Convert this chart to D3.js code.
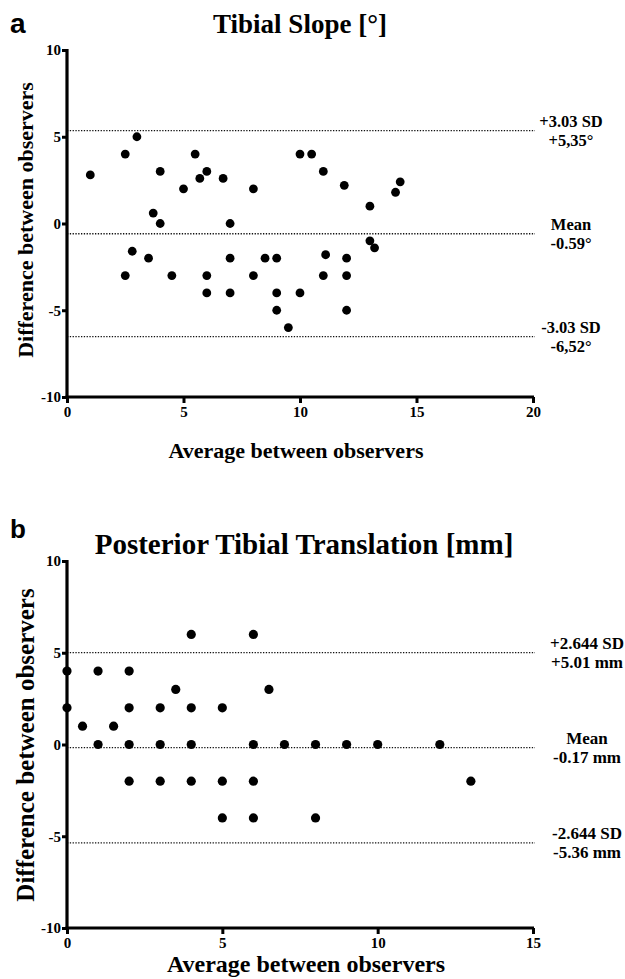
<!DOCTYPE html>
<html>
<head>
<meta charset="utf-8">
<script src="https://cdn.jsdelivr.net/npm/d3@7"></script>
<style>
    body { margin: 0; background: #fff; }
    svg text { font-family: "Liberation Serif", "Times New Roman", serif; font-weight: bold; fill: #000; }
    .axis .tick line { stroke: #000; stroke-width: 3px; }
</style>
</head>
<body>
<div id="chart"></div>
<script>
// Panel a: tibial slope
let slopeAvg  = [1, 2.5, 3, 4, 3.7, 4, 5, 5.5, 5.7, 6, 6.7, 7, 8, 10, 10.5, 11, 11.9, 13, 14.1, 14.3,
                 2.5, 2.8, 3.5, 4.5, 6, 6, 7, 7, 8, 8.5, 9, 9, 9, 9.5, 10, 11, 11.1, 12, 12, 12, 13, 13.2];
let slopeDiff = [2.8, 4, 5, 3, 0.6, 0, 2, 4, 2.6, 3, 2.6, 0, 2, 4, 4, 3, 2.2, 1, 1.8, 2.4,
                 -3, -1.6, -2, -3, -3, -4, -2, -4, -3, -2, -2, -4, -5, -6, -4, -3, -1.8, -2, -3, -5, -1, -1.4];
let slopeRefValues = [5.35, -0.59, -6.52];
let slopeRefLabels = [["+3.03 SD", "+5,35°"], ["Mean", "-0.59°"], ["-3.03 SD", "-6,52°"]];

// Panel b: posterior tibial translation
let ptAvg  = [0, 0, 0.5, 1, 1, 1.5, 2, 2, 2, 2, 3, 3, 3, 3.5, 4, 4, 4, 4, 5, 5, 5, 6, 6, 6, 6, 6.5, 7, 8, 8, 9, 10, 12, 13];
let ptDiff = [4, 2, 1, 4, 0, 1, 4, 2, 0, -2, 2, 0, -2, 3, 6, 2, 0, -2, 2, -2, -4, 6, 0, -2, -4, 3, 0, 0, -4, 0, 0, 0, -2];
let ptRefValues = [5.01, -0.17, -5.36];
let ptRefLabels = [["+2.644 SD", "+5.01 mm"], ["Mean", "-0.17 mm"], ["-2.644 SD", "-5.36 mm"]];

let yTicks = [-10, -5, 0, 5, 10];

let svg = d3.select("#chart").append("svg")
    .attr("width", 625)
    .attr("height", 979);

function drawPanel(cfg) {
    let g = svg.append("g");

    let x = d3.scaleLinear().domain([0, cfg.xMax]).range([67, 533]);
    let y = d3.scaleLinear().domain([-10, 10]).range([cfg.bottom, cfg.top]);

    // panel letter
    g.append("text")
        .attr("x", 10).attr("y", cfg.letterY)
        .style("font-family", "'Liberation Sans', Arial, sans-serif")
        .style("font-size", cfg.letterSize + "px")
        .text(cfg.letter);

    // title
    g.append("text")
        .attr("x", cfg.titleX).attr("y", cfg.titleY)
        .attr("text-anchor", "middle")
        .style("font-size", cfg.titleSize + "px")
        .text(cfg.title);

    // reference lines (dotted)
    g.selectAll(".ref")
        .data(cfg.refValues)
        .enter().append("line")
        .attr("x1", x(0)).attr("x2", 535)
        .attr("y1", d => y(d)).attr("y2", d => y(d))
        .style("stroke", "#111")
        .style("stroke-width", 1.3)
        .style("stroke-dasharray", "1.3,1.5");

    let refText = g.selectAll(".reflabel")
        .data(cfg.refValues)
        .enter().append("text")
        .attr("text-anchor", "middle")
        .style("font-size", cfg.refSize + "px");
    refText.append("tspan")
        .attr("x", cfg.refX).attr("y", d => y(d) - 4)
        .text((d, i) => cfg.refLabels[i][0]);
    refText.append("tspan")
        .attr("x", cfg.refX).attr("y", d => y(d) + 15)
        .text((d, i) => cfg.refLabels[i][1]);

    // axes
    let yAxis = g.append("g")
        .attr("class", "axis")
        .attr("transform", "translate(" + x(0) + ",0)")
        .call(d3.axisLeft(y).tickValues(yTicks).tickFormat(d => String(d))
            .tickSize(5).tickSizeOuter(0).tickPadding(1));
    let xAxis = g.append("g")
        .attr("class", "axis")
        .attr("transform", "translate(0," + y(-10) + ")")
        .call(d3.axisBottom(x).tickValues(cfg.xTicks).tickFormat(d => String(d))
            .tickSize(6).tickSizeOuter(0).tickPadding(3));

    [yAxis, xAxis].forEach(a => {
        a.attr("font-family", null).attr("font-size", null);
        a.select(".domain").remove();
        a.selectAll(".tick text").style("font-size", cfg.tickSize + "px");
    });

    // heavy axis lines
    g.append("line")
        .attr("x1", x(0)).attr("x2", x(0))
        .attr("y1", y(10) - 1).attr("y2", y(-10) + 1.5)
        .style("stroke", "#000").style("stroke-width", 3.2);
    g.append("line")
        .attr("x1", x(0) - 1.5).attr("x2", x(cfg.xMax) + 1)
        .attr("y1", y(-10)).attr("y2", y(-10))
        .style("stroke", "#000").style("stroke-width", 3.2);

    // axis titles
    g.append("text")
        .attr("transform", "translate(" + cfg.yLabelX + "," + cfg.yLabelY + ") rotate(-90)")
        .attr("text-anchor", "middle")
        .style("font-size", cfg.yLabelSize + "px")
        .text("Difference between observers");

    g.append("text")
        .attr("x", cfg.xLabelX).attr("y", cfg.xLabelY)
        .attr("text-anchor", "middle")
        .style("font-size", cfg.xLabelSize + "px")
        .text("Average between observers");

    // points
    g.selectAll(".dot")
        .data(cfg.avg)
        .enter().append("circle")
        .attr("cx", d => x(d))
        .attr("cy", (d, i) => y(cfg.diff[i]))
        .attr("r", cfg.r)
        .style("fill", "#000");
}

drawPanel({
    letter: "a", letterY: 33, letterSize: 28,
    title: "Tibial Slope [°]", titleX: 300, titleY: 33, titleSize: 27,
    xMax: 20, xTicks: [0, 5, 10, 15, 20],
    top: 50, bottom: 397,
    refValues: slopeRefValues, refLabels: slopeRefLabels, refX: 571, refSize: 16.5,
    tickSize: 15,
    yLabelX: 33, yLabelY: 220, yLabelSize: 22,
    xLabelX: 296, xLabelY: 458, xLabelSize: 22,
    avg: slopeAvg, diff: slopeDiff, r: 4.4
});

drawPanel({
    letter: "b", letterY: 538, letterSize: 26,
    title: "Posterior Tibial Translation [mm]", titleX: 304, titleY: 554, titleSize: 29,
    xMax: 15, xTicks: [0, 5, 10, 15],
    top: 561, bottom: 928,
    refValues: ptRefValues, refLabels: ptRefLabels, refX: 587, refSize: 17,
    tickSize: 15,
    yLabelX: 34, yLabelY: 745, yLabelSize: 25,
    xLabelX: 306, xLabelY: 972, xLabelSize: 24,
    avg: ptAvg, diff: ptDiff, r: 4.6
});
</script>
</body>
</html>
